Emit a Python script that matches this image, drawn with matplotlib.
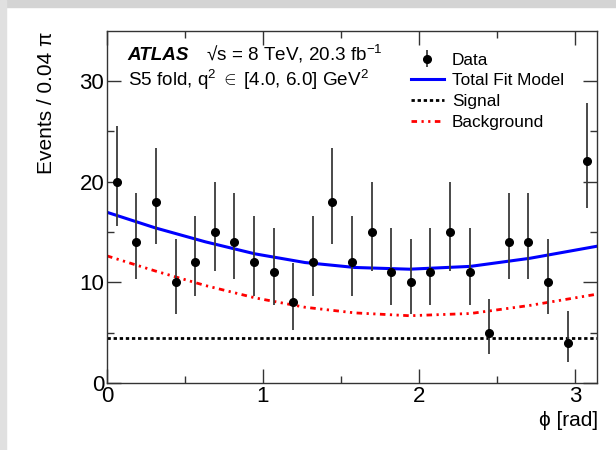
import numpy as np
import matplotlib
matplotlib.use("Agg")
from matplotlib import pyplot as plt
from matplotlib.patches import Rectangle

plt.rcParams["font.family"] = ["Liberation Sans", "DejaVu Sans"]
plt.rcParams["mathtext.fontset"] = "custom"
plt.rcParams["mathtext.rm"] = "Liberation Sans"
plt.rcParams["mathtext.it"] = "Liberation Sans:italic"

# data: 25 bins of width 0.04 pi in phi
bin_width = 0.04 * np.pi
counts = [20, 14, 18, 10, 12, 15, 14, 12, 11, 8, 12, 18, 12,
          15, 11, 10, 11, 15, 11, 5, 14, 14, 10, 4, 22]
err_lo_edge = [15.57, 10.30, 13.80, 6.89, 8.59, 11.17, 10.30, 8.59, 7.73, 5.23,
               8.59, 13.80, 8.59, 11.17, 7.73, 6.89, 7.73, 11.17, 7.73, 2.84,
               10.30, 10.30, 6.89, 2.09, 17.35]
err_hi_edge = [25.55, 18.83, 23.32, 14.27, 16.56, 19.96, 18.83, 16.56, 15.42, 11.95,
               16.56, 23.32, 16.56, 19.96, 15.42, 14.27, 15.42, 19.96, 15.42, 8.38,
               18.83, 18.83, 14.27, 7.16, 27.76]

# fit curves
curve_phi = [0.0, 0.31, 0.63, 0.95, 1.27, 1.59, 1.94, 2.33, 2.71, np.pi]
total_fit = [16.95, 15.40, 14.02, 12.82, 11.96, 11.47, 11.30, 11.58, 12.38, 13.58]
background = [12.62, 11.12, 9.68, 8.45, 7.52, 6.96, 6.68, 6.90, 7.70, 8.82]
signal = [4.5] * len(curve_phi)

counts = np.array(counts, dtype=float)
centers = (np.arange(len(counts)) + 0.5) * bin_width
yerr = [counts - np.array(err_lo_edge), np.array(err_hi_edge) - counts]

fig = plt.figure(figsize=(6.16, 4.5), dpi=100)
# grey frame strips at top and left of the screenshot
fig.patches.append(Rectangle((0, 1 - 7 / 450), 1, 7 / 450, transform=fig.transFigure,
                             color="#d4d4d4", zorder=-1))
fig.patches.append(Rectangle((0, 0), 6 / 616, 1, transform=fig.transFigure,
                             color="#e0e0e0", zorder=-1))

ax = fig.add_axes([107 / 616, 1 - 383 / 450, 490 / 616, 352.5 / 450])

ax.plot(curve_phi, total_fit, color="#0000ff", lw=2.2, label="Total Fit Model", zorder=2)
ax.plot(curve_phi, signal, color="black", lw=2.0, ls=(0, (1.2, 1.0)), label="Signal", zorder=2)
ax.plot(curve_phi, background, color="#ff0000", lw=2.0,
        ls=(0, (2.0, 1.6, 0.8, 1.6, 0.8, 1.6)), label="Background", zorder=2)
ax.errorbar(centers, counts, yerr=yerr, fmt="o", color="black", ecolor="#3a3a3a",
            ms=5.5, elinewidth=1.3, capsize=0, label="Data", zorder=3)

ax.set_xlim(0, np.pi)
ax.set_ylim(0, 35)
ax.set_xticks([0, 1, 2, 3])
ax.set_xticks([0.5, 1.5, 2.5], minor=True)
ax.set_yticks([0, 10, 20, 30])
ax.set_yticks([5, 15, 25], minor=True)
ax.tick_params(which="both", direction="in", top=True, right=True,
               labelsize=16, width=1.0, color="#333333", pad=2)
ax.tick_params(which="major", length=10)
ax.tick_params(which="minor", length=5)
for s in ax.spines.values():
    s.set_linewidth(1.0)
    s.set_color("#333333")

fig.text(47 / 616, 1 - 32 / 450, "Events / 0.04 π", rotation=90, ha="center", va="top",
         fontsize=15)
fig.text(598 / 616, 1 - 421 / 450, "ϕ [rad]", ha="right", va="center", fontsize=15)

fig.text(127.5 / 616, 1 - 60.5 / 450, "ATLAS", fontsize=13.6, fontweight="bold",
         fontstyle="italic", va="baseline")
fig.text(206 / 616, 1 - 60.5 / 450, "√s = 8 TeV, 20.3 fb$^{-1}$", fontsize=13.6, va="baseline")
fig.text(127.5 / 616, 1 - 86.5 / 450, r"S5 fold, q$^{2}\;\in\;$[4.0, 6.0] GeV$^{2}$",
         fontsize=13.6, va="baseline")

handles, labels = ax.get_legend_handles_labels()
order = [labels.index(l) for l in ["Data", "Total Fit Model", "Signal", "Background"]]
ax.legend([handles[i] for i in order], [labels[i] for i in order],
          loc="upper left", bbox_to_anchor=(0.62, 0.9375), frameon=False,
          fontsize=12.4, handlelength=1.92, handletextpad=0.47, labelspacing=0.33,
          borderpad=0, borderaxespad=0)

fig.savefig("out.png", dpi=100)
